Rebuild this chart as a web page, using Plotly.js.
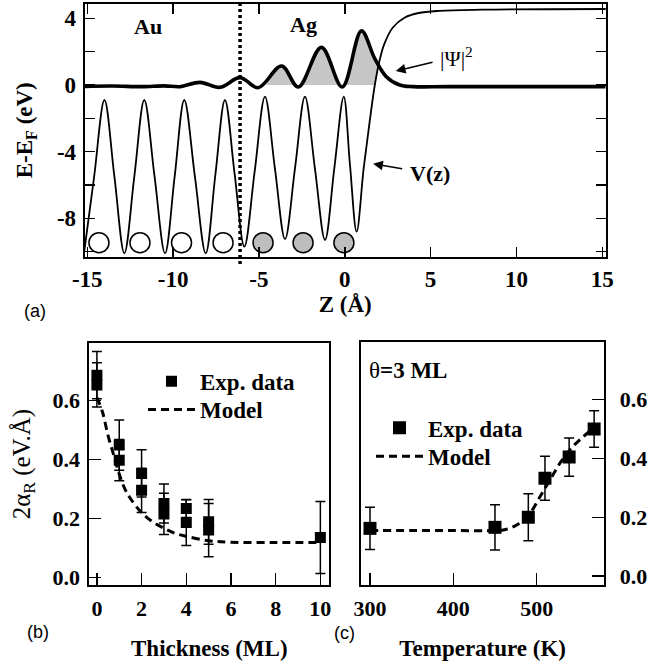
<!DOCTYPE html>
<html>
<head>
<meta charset="utf-8">
<script src="https://cdn.plot.ly/plotly-3.0.1.min.js"></script>
<style>html,body{margin:0;padding:0;background:#fff;}#chart{width:672px;height:664px;}</style>
</head>
<body>
<div id="chart"></div>
<script>
// ---------- Panel (a): potential V(z) and |Psi|^2 ----------
const potZ = [-15.19,-14.6,-14.0,-13.42,-12.84,-12.26,-11.68,-11.08,-10.47,-9.91,-9.35,-8.73,-8.1,-7.54,-6.98,-6.42,-5.85,-5.25,-4.65,-4.07,-3.48,-2.9,-2.32,-1.74,-1.15,-0.61,-0.06,0.3,0.69,1.1,1.45,1.75,2.0,2.3,2.8,3.5,4.3,5.5,8.0,15.3];
const potE = [-10.1,-5.5,-0.9,-5.5,-10.1,-5.5,-0.9,-5.5,-10.1,-5.5,-0.9,-5.5,-10.1,-5.4,-0.9,-5.3,-9.7,-5.2,-0.7,-5.0,-9.25,-5.0,-0.7,-5.0,-9.3,-5.0,-0.7,-4.75,-8.8,-5.0,-2.2,0.0,1.35,2.45,3.45,4.05,4.32,4.45,4.52,4.56];
const psiZ = [-15.15,-13.5,-11.8,-10.5,-9.6,-8.43,-7.27,-6.1,-5.04,-3.68,-2.71,-1.36,-0.15,0.97,1.74,2.42,3.2,4.0,6.0,15.2];
const psiE = [-0.08,-0.06,-0.1,-0.05,-0.1,0.16,-0.14,0.44,-0.16,1.14,-0.12,2.26,-0.12,3.25,1.6,0.5,0.0,-0.1,-0.1,-0.1];
const fillStartZ = -4.6;            // shaded area begins where |Psi|^2 rises above 0
const fillEndZ = [1.95, 1.75];      // shaded area ends at the potential wall
const fillEndE = [1.2, 0.0];
const auAtomZ = [-14.32,-11.93,-9.51,-7.09];
const agAtomZ = [-4.76,-2.43,-0.05];
const atomRowE = -9.46;
const interfaceZ = -6.1;
const aTickVals = [-15,-10,-5,0,5,10,15];
const aTickText = ['-15','-10','-5','0','5','10','15'];
const aYTickVals = [4,0,-4,-8];
const aYTickText = ['4','0','-4','-8'];
const aYMinorVals = [2,-2,-6,-10];

// ---------- Panel (b): thickness dependence ----------
const thickExp = [0,0,1,1,2,2,3,3,4,4,5,5,10];
const alphaThickExp = [0.685,0.652,0.448,0.397,0.352,0.295,0.25,0.215,0.233,0.186,0.188,0.16,0.135];
const alphaThickErr = [0.08,0.075,0.085,0.07,0.08,0.075,0.066,0.07,0.03,0.078,0.076,0.09,0.122];
const thickModel = [0,0.25,0.5,0.75,1,1.25,1.5,2,2.5,3,3.5,4,5,6,8,10];
const alphaThickModel = [0.61,0.56,0.48,0.415,0.35,0.3,0.267,0.219,0.188,0.166,0.149,0.139,0.124,0.119,0.118,0.118];
const thickTickVals = [0,2,4,6,8,10];
const thickTickText = ['0','2','4','6','8','10'];

// ---------- Panel (c): temperature dependence ----------
const tempExp = [300,450,490,510,539,569];
const alphaTempExp = [0.1625,0.166,0.2,0.333,0.405,0.5];
const alphaTempErr = [0.072,0.077,0.08,0.075,0.065,0.062];
const tempModel = [300,350,400,450,460,476,492,504,516,528,540,552,568];
const alphaTempModel = [0.155,0.155,0.155,0.155,0.157,0.174,0.214,0.27,0.327,0.384,0.43,0.464,0.503];
const tempTickVals = [300,400,500];
const tempTickText = ['300','400','500'];

const alphaTickVals = [0,0.2,0.4,0.6];
const alphaTickText = ['0.0','0.2','0.4','0.6'];

// ---------- build ----------
const SERIF = 'Liberation Serif';
const SANS = 'Liberation Sans';
const bold = (arr) => arr.map(t => '<b>' + t + '</b>');
const fillX = [fillStartZ].concat(psiZ.filter(z => z > fillStartZ && z < fillEndZ[0]), fillEndZ);
const fillY = [0].concat(psiE.filter((e, i) => psiZ[i] > fillStartZ && psiZ[i] < fillEndZ[0]), fillEndE);

const traces = [
  {x: fillX, y: fillY, xaxis:'x', yaxis:'y', mode:'lines', fill:'toself', fillcolor:'#c6c6c6',
   line:{width:0, shape:'spline', color:'rgba(0,0,0,0)'}, showlegend:false, hoverinfo:'skip'},
  {x: potZ, y: potE, xaxis:'x', yaxis:'y', mode:'lines', line:{color:'#000', width:1.8, shape:'spline'},
   showlegend:false, name:'V(z)'},
  {x: psiZ, y: psiE, xaxis:'x', yaxis:'y', mode:'lines', line:{color:'#000', width:3.6, shape:'spline'},
   showlegend:false, name:'|Ψ|²'},
  {x: auAtomZ, y: auAtomZ.map(() => atomRowE), xaxis:'x', yaxis:'y', mode:'markers',
   marker:{symbol:'circle', size:20, color:'#fff', line:{color:'#000', width:1.5}}, showlegend:false, name:'Au'},
  {x: agAtomZ, y: agAtomZ.map(() => atomRowE), xaxis:'x', yaxis:'y', mode:'markers',
   marker:{symbol:'circle', size:20, color:'#bdbdbd', line:{color:'#000', width:1.5}}, showlegend:false, name:'Ag'},

  {x: thickModel, y: alphaThickModel, xaxis:'x2', yaxis:'y2', mode:'lines', name:'Model', legend:'legend2',
   line:{color:'#000', width:3, dash:'8px,5px', shape:'spline'}},
  {x: thickExp, y: alphaThickExp, xaxis:'x2', yaxis:'y2', mode:'markers', name:'Exp. data', legend:'legend',
   marker:{symbol:'square', size:11, color:'#000'},
   error_y:{type:'data', array: alphaThickErr, visible:true, color:'#000', thickness:1.5, width:5}},

  {x: tempModel, y: alphaTempModel, xaxis:'x3', yaxis:'y3', mode:'lines', name:'Model', legend:'legend4',
   line:{color:'#000', width:3, dash:'8px,5px', shape:'spline'}},
  {x: tempExp, y: alphaTempExp, xaxis:'x3', yaxis:'y3', mode:'markers', name:'Exp. data', legend:'legend3',
   marker:{symbol:'square', size:13, color:'#000'},
   error_y:{type:'data', array: alphaTempErr, visible:true, color:'#000', thickness:1.5, width:5}}
];

const tickFont = (s) => ({family:SERIF, size:s, color:'#000', weight:'bold'});
const titleFont = {family:SERIF, size:23, color:'#000', weight:'bold'};
const baseAxis = {showgrid:false, zeroline:false, showline:true, linecolor:'#000', linewidth:2,
                  ticks:'inside', tickcolor:'#000', tickwidth:1.5};

const H = 664, W = 672;
const legendBase = (left, top) => ({x:left/W, y:1-top/H, xanchor:'left', yanchor:'top', bgcolor:'rgba(0,0,0,0)',
  borderwidth:0, itemwidth:47, font:{family:SERIF, size:23, color:'#000', weight:'bold'}});
const layout = {
  width: W, height: H, margin:{l:0,r:0,t:0,b:0}, paper_bgcolor:'#fff', plot_bgcolor:'#fff',
  showlegend: true,
  font:{family:SERIF, color:'#000'},
  xaxis: Object.assign({}, baseAxis, {
    anchor:'y', domain:[84.7/W, 605.7/W], range:[-15.15, 15.2], mirror:'ticks', ticklen:10,
    tickmode:'array', tickvals:aTickVals, ticktext:bold(aTickText), tickfont:tickFont(23), ticklabelstandoff:1,
    title:{text:'Z (Å)', font:titleFont, standoff:3}}),
  yaxis: Object.assign({}, baseAxis, {
    anchor:'x', domain:[1-256.5/H, 1-4/H], range:[-10.29, 4.86], mirror:'ticks', ticklen:10,
    tickmode:'array', tickvals:aYTickVals, ticktext:bold(aYTickText), tickfont:tickFont(23), ticklabelstandoff:2,
    minor:{tickmode:'array', tickvals:aYMinorVals, ticks:'inside', ticklen:10, tickwidth:1.5, tickcolor:'#000'},
    title:{text:'E-E<sub>F</sub> (eV)', font:titleFont, standoff:18}}),
  xaxis2: Object.assign({}, baseAxis, {
    anchor:'y2', domain:[89.3/W, 329.3/W], range:[-0.34, 10.4], mirror:true, ticklen:12,
    tickmode:'array', tickvals:thickTickVals, ticktext:bold(thickTickText), tickfont:tickFont(22), ticklabelstandoff:3,
    title:{text:'Thickness (ML)', font:titleFont, standoff:19}}),
  yaxis2: Object.assign({}, baseAxis, {
    anchor:'x2', domain:[1-585/H, 1-343.3/H], range:[-0.026, 0.793], mirror:true, ticklen:12,
    tickmode:'array', tickvals:alphaTickVals, ticktext:bold(alphaTickText), tickfont:tickFont(22), ticklabelstandoff:3,
    title:{text:'2α<sub>R</sub> (eV.Å)', font:{family:SERIF, size:25, color:'#000'}, standoff:15}}),
  xaxis3: Object.assign({}, baseAxis, {
    anchor:'y3', domain:[361/W, 604.3/W], range:[289.2, 581.2], mirror:true, ticklen:12,
    tickmode:'array', tickvals:tempTickVals, ticktext:bold(tempTickText), tickfont:tickFont(22), ticklabelstandoff:3,
    title:{text:'Temperature (K)', font:titleFont, standoff:19}}),
  yaxis3: Object.assign({}, baseAxis, {
    anchor:'x3', side:'right', domain:[1-585/H, 1-341.7/H], range:[-0.03, 0.797], mirror:true, ticklen:12,
    tickmode:'array', tickvals:alphaTickVals, ticktext:bold(alphaTickText), tickfont:tickFont(22), ticklabelstandoff:9}),
  legend: legendBase(143, 359.7),
  legend2: legendBase(143, 388),
  legend3: legendBase(371, 406.3),
  legend4: legendBase(371, 434.7),
  shapes:[
    {type:'line', xref:'x', yref:'y domain', x0:interfaceZ, x1:interfaceZ, y0:-0.03, y1:1.02,
     line:{color:'#000', width:3.5, dash:'3px,3px'}}
  ],
  annotations:[
    {xref:'x', yref:'y', x:-11.45, y:3.5, text:'<b>Au</b>', showarrow:false, font:{family:SERIF, size:22, color:'#000'}},
    {xref:'x', yref:'y', x:-2.38, y:3.6, text:'<b>Ag</b>', showarrow:false, font:{family:SERIF, size:22, color:'#000'}},
    {xref:'x', yref:'y', x:1.65, y:-4.73, axref:'x', ayref:'y', ax:4.94, ay:-5.3, text:'<b>V(z)</b>',
     showarrow:true, arrowhead:2, arrowsize:1.3, arrowwidth:1.5, arrowcolor:'#000', startstandoff:6,
     font:{family:SERIF, size:22, color:'#000'}},
    {xref:'x', yref:'y', x:2.97, y:0.84, axref:'x', ayref:'y', ax:6.5, ay:1.7, text:'|Ψ|<sup>2</sup>',
     showarrow:true, arrowhead:2, arrowsize:1.3, arrowwidth:1.5, arrowcolor:'#000', startstandoff:6,
     font:{family:SERIF, size:22, color:'#000'}},
    {xref:'paper', yref:'paper', x:366.7/W, y:1-370/H, xanchor:'left', yanchor:'middle', text:'θ<b>=3 ML</b>',
     showarrow:false, font:{family:SERIF, size:23, color:'#000'}},
    {xref:'paper', yref:'paper', x:22/W, y:1-311/H, text:'(a)', showarrow:false, font:{family:SANS, size:18, color:'#000'}},
    {xref:'paper', yref:'paper', x:25/W, y:1-644/H, text:'(b)', showarrow:false, font:{family:SANS, size:18, color:'#000'}},
    {xref:'paper', yref:'paper', x:345/W, y:1-645/H, text:'(c)', showarrow:false, font:{family:SANS, size:18, color:'#000'}}
  ]
};

Plotly.newPlot('chart', traces, layout, {staticPlot:true, displayModeBar:false});
</script>
</body>
</html>
